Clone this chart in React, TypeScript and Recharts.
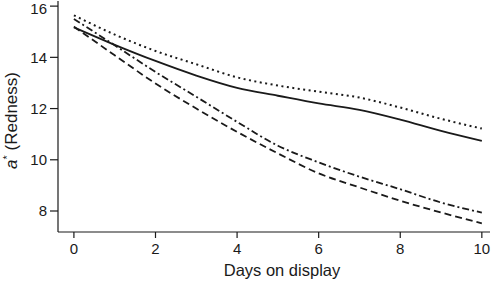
import { Line, LineChart, XAxis, YAxis } from "recharts";

// Days on display and the four a* (redness) curves.
const days = [0, 1, 2, 3, 4, 5, 6, 7, 8, 9, 10];
const solid = [15.17, 14.49, 13.86, 13.29, 12.81, 12.5, 12.2, 11.95, 11.57, 11.13, 10.74];
const dotted = [15.64, 14.89, 14.25, 13.73, 13.22, 12.9, 12.66, 12.43, 12.04, 11.6, 11.22];
const dashDot = [15.5, 14.47, 13.43, 12.46, 11.48, 10.55, 9.9, 9.34, 8.85, 8.33, 7.94];
const dashed = [15.2, 14.08, 12.98, 12.0, 11.09, 10.25, 9.47, 8.92, 8.4, 7.94, 7.52];

const xTicks = [0, 2, 4, 6, 8, 10];
const yTicks = [8, 10, 12, 14, 16];

const data = days.map((d, i) => ({
  day: d,
  solid: solid[i],
  dotted: dotted[i],
  dashDot: dashDot[i],
  dashed: dashed[i],
}));

const FONT = "'Liberation Sans', Arial, Helvetica, sans-serif";
const INK = "#1a1a1a";

function XLabel({ viewBox }: any) {
  const cx = viewBox.x + viewBox.width / 2 + 8;
  return (
    <text x={cx} y={viewBox.y + 44} textAnchor="middle" fill={INK} fontSize={16.5} fontFamily={FONT}>
      Days on display
    </text>
  );
}

function YLabel({ viewBox }: any) {
  const x = viewBox.x + 17;
  const y = viewBox.y + viewBox.height / 2 + 4;
  return (
    <text
      x={x}
      y={y}
      transform={`rotate(-90, ${x}, ${y})`}
      textAnchor="middle"
      fill={INK}
      fontSize={17}
      fontFamily={FONT}
    >
      <tspan fontStyle="italic">a</tspan>
      <tspan fontSize={11} dy={-6}>*</tspan>
      <tspan dy={6}> (Redness)</tspan>
    </text>
  );
}

export default function App() {
  const tick = { fill: INK, fontSize: 15, fontFamily: FONT };
  const axisLine = { stroke: INK, strokeWidth: 1.2 };
  return (
    <div style={{ width: 500, height: 283 }}>
      <style>{`body{margin:0}`}</style>
      <LineChart width={500} height={283} data={data} margin={{ top: 1, right: 10, bottom: 0, left: 0 }}>
        <XAxis
          dataKey="day"
          type="number"
          domain={[-0.39, 10.2]}
          ticks={xTicks}
          allowDataOverflow
          height={51}
          tick={tick}
          tickSize={6}
          tickMargin={5}
          axisLine={axisLine}
          tickLine={axisLine}
          label={<XLabel />}
        />
        <YAxis
          type="number"
          domain={[7.18, 16.2]}
          ticks={yTicks}
          allowDataOverflow
          width={58}
          tick={tick}
          tickSize={8}
          tickMargin={3}
          axisLine={axisLine}
          tickLine={axisLine}
          label={<YLabel />}
        />
        <Line dataKey="dotted" type="monotone" stroke={INK} strokeWidth={2} strokeDasharray="2 3.5" dot={false} isAnimationActive={false} />
        <Line dataKey="solid" type="monotone" stroke={INK} strokeWidth={1.8} dot={false} isAnimationActive={false} />
        <Line dataKey="dashDot" type="monotone" stroke={INK} strokeWidth={1.8} strokeDasharray="7 3 2 3" dot={false} isAnimationActive={false} />
        <Line dataKey="dashed" type="monotone" stroke={INK} strokeWidth={1.8} strokeDasharray="7 4" dot={false} isAnimationActive={false} />
      </LineChart>
    </div>
  );
}
